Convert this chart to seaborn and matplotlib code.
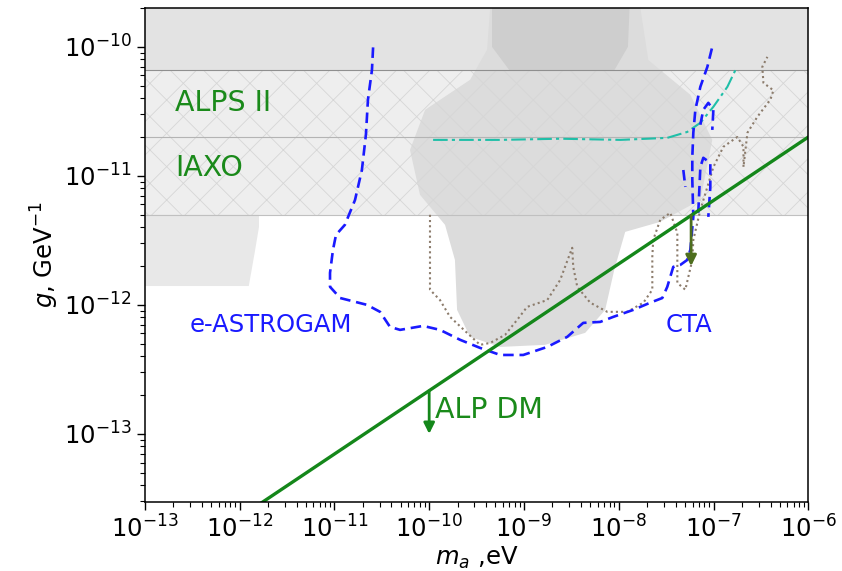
import numpy as np
import pandas as pd
import seaborn as sns
import matplotlib.pyplot as plt

# axion mass (eV) and coupling (GeV^-1)
m_min, m_max = 1e-13, 1e-6
g_min, g_max = 2.97e-14, 2.0e-10

# horizontal experiment limits
cast_g = 6.6e-11
alps2_g = 2.0e-11
iaxo_g = 5.0e-12

# e-ASTROGAM + CTA sensitivity (blue dashed)
astrogam_m = [2.56e-11, 2.49e-11, 2.26e-11, 2.15e-11, 1.95e-11, 1.65e-11, 1.29e-11, 1.04e-11,
              9.66e-12, 8.99e-12, 8.99e-12, 1.15e-11, 2.21e-11, 3.03e-11, 3.86e-11, 4.93e-11,
              8.63e-11, 1.30e-10, 2.12e-10, 3.44e-10, 5.61e-10, 9.82e-10, 1.76e-9, 2.86e-9,
              4.22e-9, 6.38e-9, 8.75e-9, 1.42e-8, 2.15e-8, 2.88e-8, 3.25e-8, 3.76e-8, 4.46e-8,
              5.28e-8, 5.69e-8, 6.12e-8, 5.97e-8, 5.97e-8, 6.12e-8, 6.43e-8, 7.26e-8, 8.61e-8, 9.7e-8]
astrogam_g = [9.9e-11, 6.6e-11, 3.9e-11, 2.08e-11, 1.11e-11, 6.5e-12, 4.17e-12, 3.49e-12,
              2.67e-12, 1.77e-12, 1.38e-12, 1.13e-12, 1.0e-12, 8.83e-13, 6.75e-13, 6.40e-13,
              6.87e-13, 6.40e-13, 5.36e-13, 4.64e-13, 4.09e-13, 4.09e-13, 4.72e-13, 5.65e-13,
              7.25e-13, 7.38e-13, 8.07e-13, 9.14e-13, 1.04e-12, 1.13e-12, 1.38e-12, 1.97e-12, 2.04e-12,
              2.23e-12, 2.67e-12, 4.81e-12, 9.3e-12, 1.40e-11, 2.16e-11, 3.25e-11, 4.90e-11, 7.0e-11, 1.0e-10]

cta_loop1_m = [7.26e-8, 7.80e-8, 8.81e-8, 9.96e-8, 9.7e-8]
cta_loop1_g = [2.49e-11, 3.25e-11, 3.68e-11, 3.25e-11, 2.27e-11]
cta_loop2_m = [6.90e-8, 7.26e-8, 7.80e-8, 9.25e-8, 9.25e-8, 8.81e-8]
cta_loop2_g = [5.17e-12, 1.17e-11, 1.38e-11, 1.26e-11, 8.2e-12, 4.81e-12]
cta_seg_m = [4.80e-8, 5.04e-8]
cta_seg_g = [1.11e-11, 8.2e-12]

# cyan dash-dot curve
cyan_m = [1.10e-10, 5.61e-10, 2.41e-9, 1.04e-8, 3.25e-8, 5.28e-8, 7.26e-8, 9.96e-8, 1.40e-7, 1.70e-7]
cyan_g = [1.90e-11, 1.90e-11, 1.94e-11, 1.90e-11, 1.97e-11, 2.19e-11, 2.58e-11, 3.43e-11, 4.90e-11, 6.6e-11]

# dotted exclusion contour
dot_m = [1.02e-10, 1.02e-10, 1.02e-10, 1.30e-10, 1.66e-10, 2.51e-10, 3.44e-10, 4.40e-10, 6.32e-10,
         8.47e-10, 1.08e-9, 1.76e-9, 2.41e-9, 3.08e-9, 3.23e-9, 3.31e-9, 3.65e-9, 5.0e-9, 7.57e-9,
         1.23e-8, 1.82e-8, 2.26e-8, 2.26e-8, 2.31e-8, 2.74e-8, 3.50e-8, 4.15e-8, 4.15e-8, 4.15e-8,
         5.04e-8, 5.97e-8, 6.12e-8, 7.26e-8, 8.61e-8, 9.96e-8, 1.27e-7, 1.78e-7, 2.07e-7, 2.07e-7,
         2.17e-7, 2.28e-7, 2.90e-7, 3.98e-7, 4.28e-7, 3.36e-7, 3.27e-7, 3.70e-7]
dot_g = [4.99e-12, 3.19e-12, 1.31e-12, 1.09e-12, 8.07e-13, 6.07e-13, 4.90e-13, 5.07e-13, 5.85e-13,
         7.65e-13, 9.65e-13, 1.09e-12, 1.56e-12, 2.53e-12, 2.77e-12, 1.97e-12, 1.38e-12, 1.04e-12, 8.83e-13,
         8.83e-13, 1.04e-12, 1.31e-12, 2.36e-12, 3.19e-12, 4.56e-12, 5.17e-12, 3.61e-12, 2.53e-12, 1.48e-12,
         1.31e-12, 2.23e-12, 3.19e-12, 5.45e-12, 8.2e-12, 1.17e-11, 1.68e-11, 2.0e-11, 1.68e-11, 1.17e-11,
         1.59e-11, 2.16e-11, 2.87e-11, 3.9e-11, 4.6e-11, 5.26e-11, 7.0e-11, 8.36e-11]

# ALP dark matter line
alpdm_m = [1e-12, 1e-6]
alpdm_g = [2.25e-14, 2.0e-11]
arrow_m = [1e-10, 5.8e-8]
arrow_g_top = [2.16e-13, 4.94e-12]
arrow_g_tip = [1.0e-13, 2.0e-12]

# excluded regions (grey)
left_m = [1e-13, 1.6e-12, 1.6e-12, 1.45e-12, 1.25e-12, 1e-13]
left_g = [5.0e-12, 5.0e-12, 4.0e-12, 2.6e-12, 1.4e-12, 1.4e-12]
blob_m = [4.40e-10, 1.69e-8, 2.05e-8, 5.69e-8, 9.7e-8, 7.26e-8, 2.74e-8, 1.17e-8, 8.97e-9, 7.19e-9,
          4.43e-9, 1.67e-9, 5.61e-10, 2.70e-10, 1.97e-10, 1.87e-10, 1.47e-10, 8.0e-11, 6.28e-11,
          9.06e-11, 2.70e-10, 4.08e-10]
blob_g = [2.0e-10, 2.0e-10, 7.9e-11, 4.25e-11, 1.9e-11, 6.5e-12, 4.40e-12, 3.68e-12, 1.87e-12, 9.14e-13,
          6.07e-13, 4.90e-13, 4.72e-13, 5.65e-13, 9.14e-13, 2.23e-12, 4.17e-12, 7.13e-12, 1.59e-11,
          3.25e-11, 5.55e-11, 9.5e-11]
core_m = [4.6e-10, 1.3e-8, 1.25e-8, 9.0e-9, 7.0e-10, 4.6e-10]
core_g = [2.0e-10, 2.0e-10, 1.0e-10, 6.6e-11, 6.6e-11, 1.0e-10]

sns.set_style("ticks")
plt.rcParams.update({
    'axes.edgecolor': 'black', 'text.color': 'black', 'axes.labelcolor': 'black',
    'xtick.color': 'black', 'ytick.color': 'black', 'hatch.linewidth': 0.6,
})

fig, ax = plt.subplots(figsize=(8.42, 5.71), dpi=100)
fig.subplots_adjust(left=0.172, right=0.960, bottom=0.121, top=0.986)
ax.set_xscale('log')
ax.set_yscale('log')
ax.set_xlim(m_min, m_max)
ax.set_ylim(g_min, g_max)

# grey bands and regions
ax.fill_between([m_min, m_max], cast_g, g_max, color='#e3e3e3', lw=0, zorder=1)
ax.fill_between([m_min, m_max], iaxo_g, cast_g, color='#eeeeee', lw=0, zorder=1)
ax.fill(left_m, left_g, color='#e8e8e8', lw=0, zorder=1.5)
ax.fill(blob_m, blob_g, color='#dcdcdc', lw=0, zorder=1.6)
ax.fill(core_m, core_g, color='#cecece', lw=0, zorder=1.7)
ax.fill_between([m_min, m_max], iaxo_g, cast_g, facecolor='none', edgecolor='#d6d6d6',
                hatch='x', lw=0, zorder=1.8)
ax.axhline(cast_g, color='#8f8f8f', lw=0.8, zorder=2)
ax.axhline(alps2_g, color='#b4b4b4', lw=0.8, zorder=2)
ax.axhline(iaxo_g, color='#c0c0c0', lw=0.8, zorder=2)

# curves
sns.lineplot(x=cyan_m, y=cyan_g, sort=False, estimator=None, color='#1fbfa8', lw=1.5,
             linestyle=(0, (7, 2, 1.5, 2)), ax=ax, zorder=3)
sns.lineplot(x=dot_m, y=dot_g, sort=False, estimator=None, color='#8c7c6c', lw=1.5,
             linestyle=(0, (1, 1.5)), ax=ax, zorder=3)
for cm, cg in [(astrogam_m, astrogam_g), (cta_loop1_m, cta_loop1_g),
               (cta_loop2_m, cta_loop2_g), (cta_seg_m, cta_seg_g)]:
    sns.lineplot(x=cm, y=cg, sort=False, estimator=None, color='#1a1aff', lw=1.9,
                 linestyle=(0, (4, 2.2)), ax=ax, zorder=4)
sns.lineplot(x=alpdm_m, y=alpdm_g, sort=False, estimator=None, color='#14871a', lw=2.4,
             ax=ax, zorder=5)

arrow_colors = ['#14871a', '#4e6e1e']
for am, gt, gb, ac in zip(arrow_m, arrow_g_top, arrow_g_tip, arrow_colors):
    ax.annotate('', xy=(am, gb), xytext=(am, gt),
                arrowprops=dict(arrowstyle='-|>', color=ac, lw=2, mutation_scale=16,
                                shrinkA=0, shrinkB=0), zorder=6)

# labels
ax.text(2.1e-13, 3.7e-11, 'ALPS II', color='#1a8a1a', fontsize=20.5, va='center')
ax.text(2.1e-13, 1.15e-11, 'IAXO', color='#1a8a1a', fontsize=20.5, va='center')
ax.text(3.0e-13, 7.0e-13, 'e-ASTROGAM', color='#1a1aff', fontsize=17.5, va='center')
ax.text(3.1e-8, 7.0e-13, 'CTA', color='#1a1aff', fontsize=17.5, va='center')
ax.text(1.15e-10, 1.53e-13, 'ALP DM', color='#1a8a1a', fontsize=20.5, va='center')

ax.set_xlabel('$m_a$ ,eV', fontsize=17.5, labelpad=2)
ax.set_ylabel('$g$, GeV$^{-1}$', fontsize=17.5, labelpad=2)
ax.set_xticks([10.0 ** k for k in range(-13, -5)])
ax.set_yticks([10.0 ** k for k in range(-13, -9)])
ax.tick_params(which='major', length=6, width=1, labelsize=17.5)
ax.tick_params(which='minor', length=3.5, width=0.8)
for sp in ax.spines.values():
    sp.set_linewidth(1.1)
    sp.set_zorder(10)

fig.savefig('out.png', dpi=100)
